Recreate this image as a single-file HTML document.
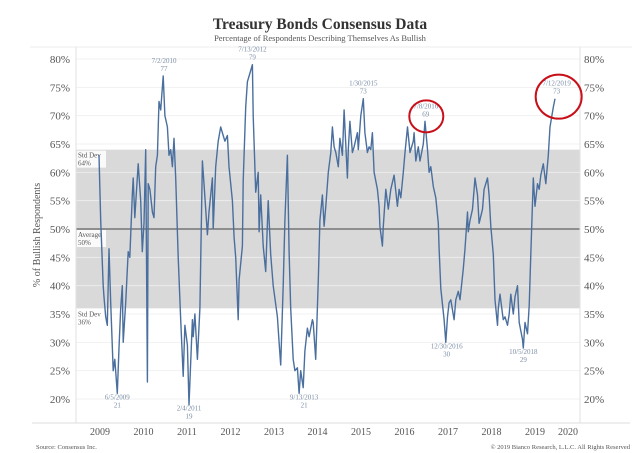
<!DOCTYPE html>
<html><head><meta charset="utf-8"><style>
html,body{margin:0;padding:0;background:#fff;}
svg{display:block;font-family:"Liberation Serif",serif;}
</style></head><body>
<svg id="chart" width="640" height="453" viewBox="0 0 640 453" xmlns="http://www.w3.org/2000/svg">
<text x="320" y="29" text-anchor="middle" font-size="15.5" font-weight="bold" fill="#333">Treasury Bonds Consensus Data</text>
<text x="320" y="41" text-anchor="middle" font-size="8.5" fill="#555">Percentage of Respondents Describing Themselves As Bullish</text>
<line x1="30" y1="47" x2="632" y2="47" stroke="#eee" stroke-width="1"/>
<g id="plot"></g>
<text transform="translate(40,235) rotate(-90)" text-anchor="middle" font-size="10" fill="#555">% of Bullish Respondents</text>
<text x="36" y="449" font-size="6.5" fill="#555">Source: Consensus Inc.</text>
<text x="630" y="449" text-anchor="end" font-size="6.5" fill="#555">© 2019 Bianco Research, L.L.C. All Rights Reserved</text>
</svg>
<script>
const weeks=[0,2,5,6,8,10,12,14,17,19,22,24,26,28,29,32,35,37,40,41,43,47,50,52,54,56,58,59,61,64,66,68,70,72,74,77,79,82,84,86,88,90,92,95,98,101,103,106,108,112,113,115,118,121,124,126,130,132,136,137,140,143,146,149,151,154,156,160,162,164,167,168,172,173,176,178,180,184,185,188,191,192,194,197,200,203,206,209,214,216,218,221,223,226,228,230,233,235,238,240,242,245,247,250,252,256,257,260,263,265,268,270,272,275,278,280,282,284,287,289,292,294,298,299,301,304,306,310,311,314,317,319,322,324,326,328,330,334,336,337,340,341,344,347,350,354,358,360,362,365,367,370,373,377,378,380,383,385,389,391,394,396,398,401,404,407,408,410,414,416,418,420,422,426,428,431,433,437,439,442,443,445,448,451,454,456,460,462,466,468,470,473,475,478,479,481,484,485,487,490,492,494,497,499,502,504,508,509,511,514,516,518,521,523,526,528,530,533,536,539,541,545,547];
const bullish=[63,51.5,40,38,34.5,33,46.5,37,25,27,21,29,36,40,30,37,46,45,56,59,52,61.5,55,46,51,64,23,58,57,53,52,61,63,72.5,71,77,70,68,63,64,61,66,59,45,34,24,33,29.5,19,34,31,35,27,36,62,58,49,53,59,50,61,65.5,68,66.5,65.5,66.5,61,55,48.5,45,34,41,47,58.5,71.5,76,77,79,70,56.5,60,49.5,56,47,42.5,55,45.5,40,34.5,30,26,40,51.5,63,46,36,27,25,25.5,21,25,22,28.5,32.5,31,34,33.5,27,41,51.5,56,50.5,54,60,63.5,68,64.5,63.5,61,66,63,71,59,64,69,63.5,64.5,67,64,70,73,67,63.5,64.5,64,67,60,57,54,50.5,47,50.5,57,53.5,57,59.5,54,57,55.5,60,63.5,68,63.5,65.5,67,62,64.5,62,65,69,64,60,61,57.5,55.5,51,46.5,39.5,34,30,34.5,37,37.5,34,37.5,39,37.5,43,46.5,53,49.5,51.5,53.5,59,56,51,53.5,57,59,56,50.5,45.5,37.5,33,36,38.5,35,34,34.5,33,35,38.5,35,38,40,33.5,30.5,29,33.5,31.5,36.5,45.5,59,54,58,57,59.5,61.5,58,63,68,71.5,73];
const yearLabels=["2009","2010","2011","2012","2013","2014","2015","2016","2017","2018","2019","2020"];
const yTicks=[20,25,30,35,40,45,50,55,60,65,70,75,80];
const annWeeks=[22,78,108,184,246,317,392,417,509,549];
const annValues=[21,77,19,79,21,73,69,30,29,73];
const annDates=["6/5/2009","7/2/2010","2/4/2011","7/13/2012","9/13/2013","1/30/2015","7/8/2016","12/30/2016","10/5/2018","7/12/2019"];
const annBelow=[true,false,true,false,true,false,false,true,true,false];
const bandHigh=64, bandLow=36, avg=50;

const L=76,R=580,T=47,B=423;
const x=w=>99+w/52.18*43.5;
const y=v=>229+(50-v)*5.667;
const NS="http://www.w3.org/2000/svg";
const g=document.getElementById('plot');
function mk(tag,attrs,parent){const e=document.createElementNS(NS,tag);for(const k in attrs)e.setAttribute(k,attrs[k]);(parent||g).appendChild(e);return e;}

let e=mk('rect',{x:L,y:y(bandHigh),width:R-L,height:y(bandLow)-y(bandHigh),fill:'#d9d9d9'});


yTicks.forEach(v=>{
  const inBand=v<bandHigh&&v>bandLow;
  let gl=mk('line',{x1:L,x2:R,y1:y(v),y2:y(v),stroke:inBand?'#ececec':'#f1f1f1','stroke-width':1});
  
  
  let t1=mk('text',{x:70,y:y(v)+4,'text-anchor':'end','font-size':11,fill:'#555'});t1.textContent=v+'%';
  
  
  let t2=mk('text',{x:584,y:y(v)+4,'font-size':11,fill:'#555'});t2.textContent=v+'%';
  
  
});
e=mk('line',{x1:L,x2:R,y1:y(avg),y2:y(avg),stroke:'#444','stroke-width':1});


mk('line',{x1:L,x2:L,y1:T,y2:B,stroke:'#e2e2e2'});
mk('line',{x1:R,x2:R,y1:T,y2:B,stroke:'#e2e2e2'});
e=mk('line',{x1:32,x2:630,y1:B,y2:B,stroke:'#ddd'});


yearLabels.forEach((s,i)=>{
  let xp=i===11?568:x(i*52.18)+1;
  let t=mk('text',{x:xp,y:B+12,'text-anchor':'middle','font-size':10,fill:'#555'});t.textContent=s;
  
  
});
function bandLabel(v,l1,l2){
  const gg=mk('g',{});
  mk('rect',{x:L+1,y:y(v)+1,width:29,height:17,fill:'#fff','fill-opacity':0.85},gg);
  let a=mk('text',{x:L+2,y:y(v)+8,'font-size':7,fill:'#555'},gg);a.textContent=l1;
  let b=mk('text',{x:L+2,y:y(v)+16,'font-size':7,fill:'#555'},gg);b.textContent=l2;
  return gg;
}
e=bandLabel(bandHigh,'Std Dev','64%');


e=bandLabel(avg,'Average','50%');


e=bandLabel(bandLow,'Std Dev','36%');



const d=weeks.map((w,i)=>(i?'L':'M')+x(w).toFixed(1)+','+y(bullish[i]).toFixed(1)).join('');
e=mk('path',{d:d,fill:'none',stroke:'#4a6f9e','stroke-width':1.4,'stroke-linejoin':'round'});



annWeeks.forEach((w,i)=>{
  const px=x(w),py=y(annValues[i]);
  const y1=annBelow[i]?py+6:py-13, y2=y1+8;
  let a=mk('text',{x:px,y:y1,'text-anchor':'middle','font-size':7,fill:'#7d8ea6'});a.textContent=annDates[i];
  
  
  let b=mk('text',{x:px,y:y2,'text-anchor':'middle','font-size':7,fill:'#7d8ea6'});b.textContent=annValues[i];
  
  
});
e=mk('ellipse',{cx:x(392)+0.5,cy:y(69)-5,rx:17,ry:16,fill:'none',stroke:'#c8101a','stroke-width':2});


e=mk('ellipse',{cx:x(549)+2,cy:y(73)-2,rx:23,ry:22,fill:'none',stroke:'#c8101a','stroke-width':2});


</script>
</body></html>
